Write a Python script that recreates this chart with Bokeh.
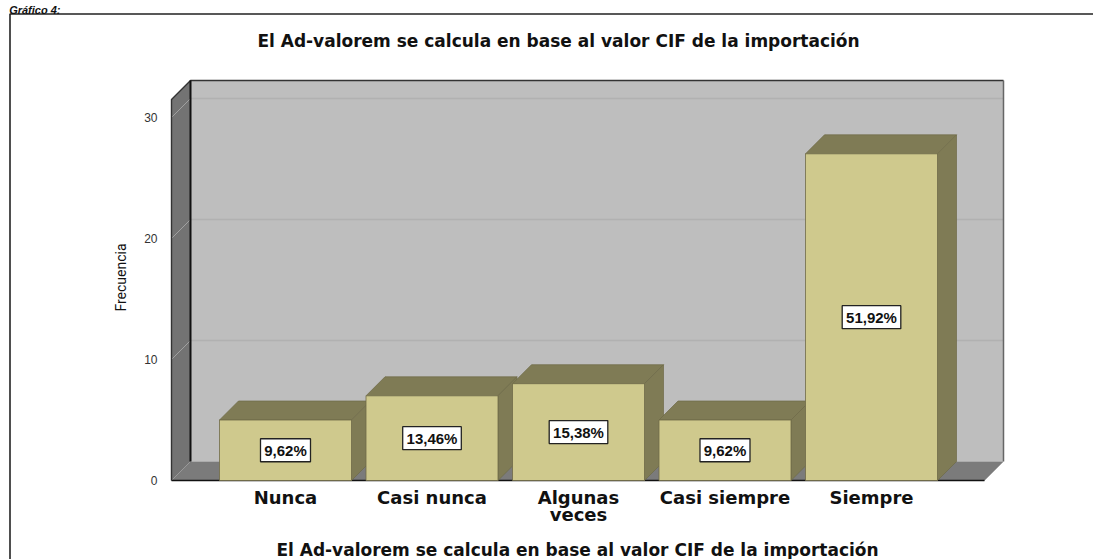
from bokeh.plotting import figure
from bokeh.models import Range1d, LinearAxis, FixedTicker, Label
from bokeh.embed import file_html
from bokeh.resources import INLINE
from bokeh.core.properties import value

title = "El Ad-valorem se calcula en base al valor CIF de la importación"
caption = "Gráfico 4:"
categories = ["Nunca", "Casi nunca", "Algunas\nveces", "Casi siempre", "Siempre"]
frequencies = [5, 7, 8, 5, 27]
percent_labels = ["9,62%", "13,46%", "15,38%", "9,62%", "51,92%"]
y_ticks = [0, 10, 20, 30]

W, H = 1093, 559
X0, XS = 285.0, 146.5  # page px of category 0, px per category
Y0, YS = 480.0, 12.1   # page px of value 0, px per unit


def X(px):
    return (px - X0) / XS


def Y(py):
    return (Y0 - py) / YS


DX, DY = 19 / XS, 19 / YS   # 3D depth in data units
HALF = 66 / XS              # half bar width

p = figure(width=W, height=H, output_backend="svg", toolbar_location=None,
           x_range=Range1d(X(0), X(W)), y_range=Range1d(Y(H), Y(0)),
           x_axis_type=None, y_axis_type=None, min_border=0,
           min_border_left=0, min_border_right=0, min_border_top=0, min_border_bottom=0,
           outline_line_color=None, background_fill_color="white", border_fill_color="white")
p.grid.visible = False

# Outer frame
p.line([X(9.5), X(9.5), X(1093)], [Y(559), Y(13.5), Y(13.5)], line_color="#222222", line_width=1.6)

# Walls
WL, WB = X(171), 0.0
WT = Y(99)
WR = X(984)
p.patch([WL + DX, WR + DX, WR + DX, WL + DX], [WB + DY, WB + DY, WT + DY, WT + DY],
        fill_color="#bebebe", line_color=None)
for t in y_ticks[1:]:
    p.line([WL + DX, WR + DX], [t + DY, t + DY], line_color="#b1b1b1", line_width=1.3)
p.patch([WL, WL + DX, WL + DX, WL], [WB, WB + DY, WT + DY, WT], fill_color="#737373", line_color=None)
for t in y_ticks[1:]:
    p.line([WL, WL + DX], [t, t + DY], line_color="#a0a0a0", line_width=1)
p.patch([WL, WL + DX, WR + DX, WR], [WB, WB + DY, WB + DY, WB], fill_color="#7b7b7b", line_color=None)
# Wall edges
p.line([WL, WL, WL + DX, WR + DX], [WB, WT, WT + DY, WT + DY], line_color="#333333", line_width=1.4)
p.line([WL + DX, WL + DX], [WB + DY, WT + DY], line_color="#111111", line_width=2)
p.line([WR + DX, WR + DX], [WT + DY, WB + DY], line_color="#666666", line_width=1.5)
p.line([WR + DX, WR], [WB + DY, WB], line_color="#aaaaaa", line_width=1)
p.line([WL, WR], [WB, WB], line_color="#111111", line_width=1.6)

# Bars, left to right
BAR_FRONT, BAR_SIDE, BAR_EDGE = "#cfc98d", "#7f7b55", "#6e6a47"
for i, v in enumerate(frequencies):
    x0, x1 = i - HALF, i + HALF
    p.patch([x0, x0 + DX, x1 + DX, x1], [v, v + DY, v + DY, v], fill_color=BAR_SIDE, line_color=BAR_EDGE, line_width=0.7)
    p.patch([x1, x1 + DX, x1 + DX, x1], [0, DY, v + DY, v], fill_color=BAR_SIDE, line_color=BAR_EDGE, line_width=0.7)
    p.patch([x0, x1, x1, x0], [0, 0, v, v], fill_color=BAR_FRONT, line_color=BAR_EDGE, line_width=0.8)

# Percent labels
mids = [v / 2 for v in frequencies]
box_w = [8.6 * len(s) + 7 for s in percent_labels]
p.rect(list(range(5)), mids, width=box_w, height=[23] * 5, width_units="screen", height_units="screen",
       fill_color="white", line_color="#222222", line_width=1.3)
p.text(list(range(5)), mids, text=percent_labels, text_align="center", text_baseline="middle",
       text_font=value("Liberation Sans"), text_font_style="bold", text_font_size="15px", text_color="#111111")

# Axes at fixed positions
xa = LinearAxis(ticker=FixedTicker(ticks=list(range(5))), fixed_location=0,
                major_label_overrides={i: c for i, c in enumerate(categories)})
xa.axis_line_color = None
xa.major_tick_line_color = None
xa.minor_tick_line_color = None
xa.major_label_standoff = 0
xa.major_label_text_font = "DejaVu Sans"
xa.major_label_text_font_style = "bold"
xa.major_label_text_font_size = "18px"
xa.major_label_text_color = "#111111"
xa.major_label_text_line_height = 0.85
p.add_layout(xa, "below")

ya = LinearAxis(ticker=FixedTicker(ticks=y_ticks), fixed_location=X(171))
ya.axis_line_color = None
ya.major_tick_line_color = None
ya.minor_tick_line_color = None
ya.major_label_standoff = 8
ya.major_label_text_font = "Liberation Sans"
ya.major_label_text_font_size = "12px"
ya.major_label_text_color = "#333333"
p.add_layout(ya, "left")

common = dict(text_font="DejaVu Sans", text_font_style="bold", text_color="#111111",
              text_align="center", text_baseline="middle", x_units="screen", y_units="screen")
p.add_layout(Label(x=558, y=H - 40, text=title, text_font_size="17px", **common))
p.add_layout(Label(x=577, y=H - 549, text=title, text_font_size="17px", **common))
p.add_layout(Label(x=120, y=H - 277, text="Frecuencia", angle=90, angle_units="deg",
                   text_font="Roboto", text_font_size="14px", text_color="#111111",
                   text_align="center", text_baseline="middle", x_units="screen", y_units="screen"))
p.add_layout(Label(x=60, y=H - 9, text=caption, text_font="Liberation Sans", text_font_style="bold italic",
                   text_font_size="11px", text_color="#111111", text_align="right",
                   text_baseline="alphabetic", x_units="screen", y_units="screen"))

open("out.html", "w").write(file_html(p, INLINE))
